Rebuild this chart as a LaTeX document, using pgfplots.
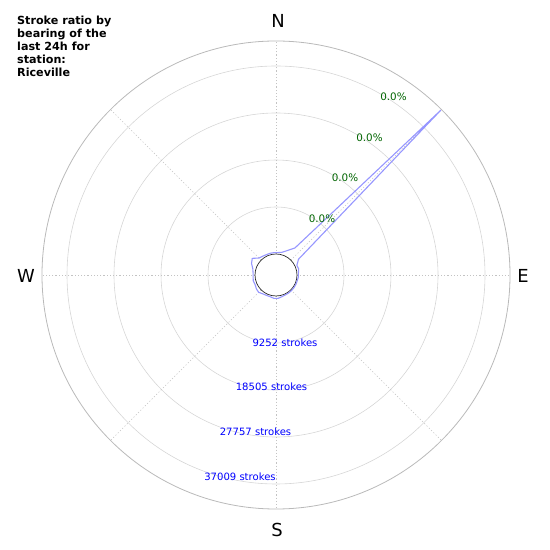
\documentclass[border=0pt]{standalone}
\usepackage{pgfplots}
\pgfplotsset{compat=1.18}
\usepackage{pgfplotstable}
\usepackage{fontspec}
\setmainfont{DejaVu Sans}
\definecolor{linecol}{RGB}{150,150,255}
\definecolor{ringcol}{RGB}{214,214,214}
\definecolor{outercol}{RGB}{185,185,185}
\definecolor{spokecol}{RGB}{195,195,195}
\definecolor{pctgreen}{RGB}{0,100,0}
\pgfplotstableread{
b s
5 295
15 492
25 1180
35 2360
45 41740
55 1280
65 394
75 492
85 295
95 295
105 197
115 197
125 197
135 197
145 197
155 197
165 295
175 492
185 492
195 295
205 295
215 394
225 689
235 591
245 394
255 492
265 394
275 394
285 591
295 1181
305 1575
315 591
325 394
335 295
345 295
355 295
365 295
}\strokes
\begin{document}
\begin{tikzpicture}
\begin{axis}[
  x=47bp, y=47bp,
  xmin=-5.87234, xmax=5.82979,
  ymin=-5.85106, ymax=5.85106,
  hide axis, clip=false,
]
\coordinate (bl) at (rel axis cs:0,0);
\coordinate (tr) at (rel axis cs:1,1);
% rings
\pgfplotsinvokeforeach{1,2,3,4}{
  \draw[ringcol, line width=0.6bp] (axis cs:0,0) circle [radius={0.44681+#1}];
}
\draw[outercol, line width=0.8bp] (axis cs:0,0) circle [radius=4.97872];
% spokes
\pgfplotsinvokeforeach{0,45,90,135,180,225,270,315}{
  \draw[spokecol, line width=0.6bp, dash pattern=on 1.2bp off 2bp]
    (axis cs:{0.44681*sin(#1)},{0.44681*cos(#1)}) -- (axis cs:{4.97872*sin(#1)},{4.97872*cos(#1)});
}
% inner hole
\draw[black!85, line width=0.7bp, fill=white] (axis cs:0,0) circle [radius=0.44681];
% data
\addplot[linecol, line width=1.1bp, mark=none, line join=round]
  table[x expr={(0.44681+\thisrow{s}/9252.25)*sin(\thisrow{b})},
        y expr={(0.44681+\thisrow{s}/9252.25)*cos(\thisrow{b})}] {\strokes};
% compass labels
\node[font=\fontsize{18}{18}\selectfont, inner sep=0] at (axis cs:{(278-276)/47},{(275-21)/47}) {N};
\node[font=\fontsize{18}{18}\selectfont, inner sep=0] at (axis cs:{(523-276)/47},{(275-276)/47}) {E};
\node[font=\fontsize{18}{18}\selectfont, inner sep=0] at (axis cs:{(277-276)/47},{(275-530)/47}) {S};
\node[font=\fontsize{18}{18}\selectfont, inner sep=0] at (axis cs:{(26-276)/47},{(275-276)/47}) {W};
% percent labels
\node[font=\fontsize{10.4}{12}\selectfont, text=pctgreen, inner sep=0] at (axis cs:{(322-276)/47},{(275-219)/47}) {0.0\%};
\node[font=\fontsize{10.4}{12}\selectfont, text=pctgreen, inner sep=0] at (axis cs:{(345-276)/47},{(275-178)/47}) {0.0\%};
\node[font=\fontsize{10.4}{12}\selectfont, text=pctgreen, inner sep=0] at (axis cs:{(369.5-276)/47},{(275-138)/47}) {0.0\%};
\node[font=\fontsize{10.4}{12}\selectfont, text=pctgreen, inner sep=0] at (axis cs:{(393.5-276)/47},{(275-97)/47}) {0.0\%};
% stroke labels
\node[font=\fontsize{10.1}{12}\selectfont, text=blue, inner sep=0] at (axis cs:{(285-276)/47},{(275-343)/47}) {9252 strokes};
\node[font=\fontsize{10.1}{12}\selectfont, text=blue, inner sep=0] at (axis cs:{(271.5-276)/47},{(275-387)/47}) {18505 strokes};
\node[font=\fontsize{10.1}{12}\selectfont, text=blue, inner sep=0] at (axis cs:{(255.5-276)/47},{(275-432)/47}) {27757 strokes};
\node[font=\fontsize{10.1}{12}\selectfont, text=blue, inner sep=0] at (axis cs:{(240-276)/47},{(275-477)/47}) {37009 strokes};
% title
\node[anchor=north west, align=left, inner sep=0,
      font=\bfseries\fontsize{11.2}{12.9}\selectfont]
  at (axis cs:{(17-276)/47},{(275-16)/47})
  {Stroke ratio by\\bearing of the\\last 24h for\\station:\\Riceville};
\end{axis}
\pgfresetboundingbox
\path[use as bounding box] (bl) rectangle (tr);
\end{tikzpicture}
\end{document}
